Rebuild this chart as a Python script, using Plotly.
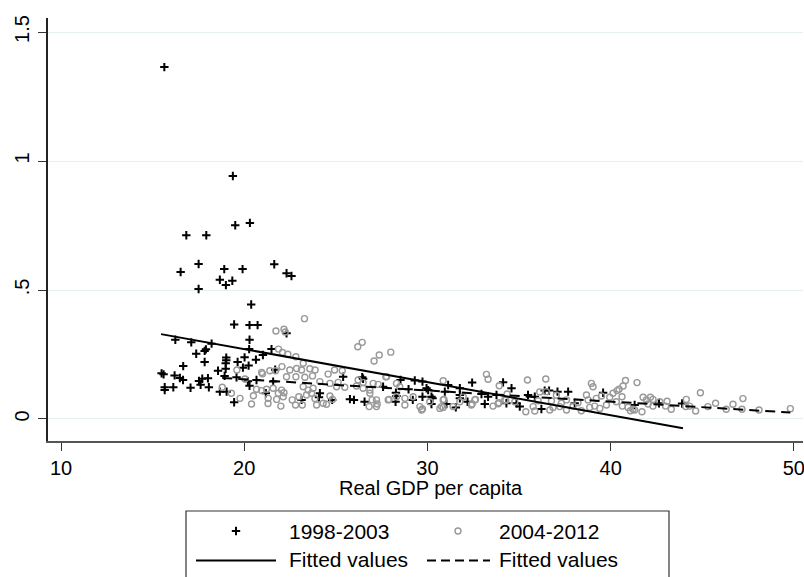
import plotly.graph_objects as go

# ---------------- data ----------------
p98_x = [15.64, 19.38, 19.51, 20.31, 16.84, 17.93, 17.51, 16.53, 18.91, 19.91, 21.64, 18.67, 19.00, 19.35,
         17.51, 22.31, 22.58, 20.38, 19.45, 20.29, 20.73, 22.31, 20.29, 16.24, 17.11, 18.22, 17.38, 17.84,
         17.91, 20.27, 21.49, 19.02, 19.02, 18.99, 19.64, 20.02, 20.64, 21.02, 17.84, 16.67, 19.93, 20.24,
         18.57, 18.99, 21.69, 15.49, 15.60, 16.20, 16.49, 16.66, 17.53, 17.71, 18.02, 17.62, 18.07, 17.07,
         15.66, 15.66, 16.13, 18.67, 19.04, 19.45, 18.93, 19.58, 20.20, 20.29, 20.67, 21.18, 21.58, 23.13,
         24.13, 24.08, 24.80, 25.40, 25.77, 25.99, 26.44, 26.49, 26.57, 27.58, 28.28, 28.31, 28.26, 28.53,
         28.97, 29.31, 29.73, 30.04, 30.22, 30.22, 29.73, 29.20, 29.95, 30.28, 30.95, 31.13, 31.04, 31.55,
         31.77, 31.77, 31.77, 32.44, 32.19, 32.95, 33.31, 33.13, 33.77, 34.13, 34.59, 34.31, 34.86, 35.04,
         35.49, 35.86, 36.22, 36.40, 36.64, 37.10, 37.68, 38.04, 39.59, 41.31, 42.64, 43.90]
p98_y = [1.364, 0.942, 0.751, 0.760, 0.712, 0.712, 0.601, 0.570, 0.581, 0.581, 0.600, 0.540, 0.519, 0.536,
         0.504, 0.565, 0.554, 0.444, 0.366, 0.364, 0.364, 0.332, 0.307, 0.307, 0.297, 0.292, 0.253, 0.264,
         0.270, 0.271, 0.271, 0.238, 0.228, 0.216, 0.221, 0.239, 0.230, 0.248, 0.221, 0.205, 0.199, 0.207,
         0.187, 0.195, 0.191, 0.177, 0.173, 0.169, 0.159, 0.151, 0.147, 0.156, 0.158, 0.133, 0.123, 0.121,
         0.123, 0.112, 0.123, 0.106, 0.106, 0.065, 0.167, 0.162, 0.146, 0.129, 0.151, 0.100, 0.145, 0.074,
         0.100, 0.084, 0.074, 0.164, 0.077, 0.074, 0.162, 0.156, 0.067, 0.125, 0.102, 0.089, 0.067, 0.151,
         0.115, 0.149, 0.145, 0.112, 0.086, 0.058, 0.086, 0.074, 0.119, 0.080, 0.106, 0.132, 0.058, 0.045,
         0.119, 0.093, 0.080, 0.141, 0.067, 0.097, 0.086, 0.058, 0.093, 0.142, 0.119, 0.061, 0.061, 0.048,
         0.093, 0.086, 0.039, 0.110, 0.110, 0.106, 0.106, 0.061, 0.102, 0.054, 0.061, 0.060]

p04_x = [23.29, 21.73, 22.17, 22.24, 26.44, 26.20, 27.37, 27.09, 28.00, 21.87, 22.09, 22.38, 22.82, 23.22,
         23.58, 23.87, 20.95, 21.00, 21.40, 21.71, 22.06, 22.49, 22.86, 23.13, 22.31, 22.82, 23.31, 23.73,
         24.58, 24.93, 25.35, 24.13, 24.68, 25.13, 25.04, 25.49, 26.22, 26.49, 27.04, 27.31, 27.73, 18.80,
         19.77, 20.40, 20.04, 20.67, 20.95, 21.22, 21.31, 21.77, 22.13, 21.86, 21.58, 22.04, 22.17, 22.00,
         22.80, 23.17, 22.62, 22.98, 23.40, 23.68, 23.86, 23.22, 23.49, 23.76, 23.95, 24.31, 24.49, 24.68,
         24.82, 26.13, 26.49, 26.86, 26.82, 27.22, 27.26, 26.98, 27.91, 28.31, 28.77, 28.77, 27.77, 28.31,
         28.49, 26.86, 27.22, 27.86, 29.22, 29.59, 29.68, 30.68, 30.86, 33.22, 33.31, 33.92, 35.46, 36.46,
         36.13, 29.73, 30.13, 30.86, 30.86, 31.40, 31.95, 32.44, 32.59, 33.58, 33.90, 34.28, 34.35, 34.77,
         35.37, 35.77, 36.04, 35.86, 36.68, 36.86, 36.77, 37.22, 37.59, 37.95, 38.22, 36.49, 37.04, 37.59,
         38.68, 38.95, 39.04, 38.77, 39.22, 39.50, 39.77, 40.13, 40.31, 40.81, 40.68, 41.44, 40.35, 40.46,
         40.62, 39.95, 40.64, 40.95, 41.22, 41.08, 41.31, 41.71, 41.77, 41.95, 42.17, 42.31, 42.04, 42.31,
         42.68, 43.08, 43.00, 43.31, 44.13, 44.10, 44.31, 44.64, 44.90, 45.31, 45.73, 46.31, 46.68, 47.22,
         47.17, 48.10, 49.81, 37.31, 38.40, 38.86, 39.13, 39.41, 30.90, 30.77, 31.77, 32.40, 32.62, 33.86,
         34.22, 19.30, 19.60, 20.50, 21.30]
p04_y = [0.389, 0.341, 0.348, 0.337, 0.297, 0.280, 0.248, 0.225, 0.259, 0.271, 0.258, 0.251, 0.241, 0.216,
         0.195, 0.190, 0.180, 0.175, 0.187, 0.187, 0.203, 0.190, 0.196, 0.190, 0.164, 0.164, 0.162, 0.167,
         0.174, 0.190, 0.187, 0.145, 0.138, 0.142, 0.125, 0.123, 0.151, 0.141, 0.138, 0.134, 0.164, 0.123,
         0.080, 0.058, 0.155, 0.115, 0.110, 0.115, 0.080, 0.076, 0.086, 0.100, 0.119, 0.112, 0.102, 0.050,
         0.054, 0.054, 0.074, 0.086, 0.093, 0.100, 0.079, 0.125, 0.112, 0.119, 0.054, 0.061, 0.057, 0.089,
         0.076, 0.128, 0.119, 0.112, 0.048, 0.048, 0.058, 0.074, 0.076, 0.086, 0.080, 0.054, 0.164, 0.138,
         0.125, 0.100, 0.074, 0.074, 0.086, 0.048, 0.035, 0.041, 0.148, 0.173, 0.154, 0.129, 0.151, 0.155,
         0.105, 0.039, 0.067, 0.074, 0.045, 0.048, 0.086, 0.058, 0.074, 0.050, 0.063, 0.072, 0.097, 0.067,
         0.028, 0.048, 0.071, 0.031, 0.035, 0.045, 0.070, 0.048, 0.035, 0.050, 0.063, 0.106, 0.092, 0.074,
         0.093, 0.138, 0.125, 0.074, 0.080, 0.089, 0.054, 0.100, 0.067, 0.149, 0.128, 0.141, 0.110, 0.115,
         0.086, 0.084, 0.050, 0.045, 0.038, 0.032, 0.035, 0.028, 0.084, 0.074, 0.084, 0.076, 0.058, 0.050,
         0.067, 0.069, 0.050, 0.038, 0.076, 0.048, 0.050, 0.031, 0.102, 0.048, 0.061, 0.038, 0.057, 0.079,
         0.038, 0.035, 0.040, 0.061, 0.032, 0.045, 0.050, 0.041, 0.076, 0.048, 0.067, 0.054, 0.076, 0.059,
         0.074, 0.100, 0.190, 0.090, 0.060]

# fitted values (endpoints of the linear fits)
fit98_x = [15.46, 43.95]
fit98_y = [0.329, -0.036]
fit04_x = [18.80, 49.81]
fit04_y = [0.159, 0.025]

x_ticks = [10, 20, 30, 40, 50]
y_ticks = [0, 0.5, 1, 1.5]
y_tick_text = ["0", ".5", "1", "1.5"]

series_names = ["1998-2003", "2004-2012", "Fitted values", "Fitted values"]
x_title = "Real GDP per capita"

# ---------------- figure ----------------
W, H = 804, 577
FONT = "Liberation Sans, Arial, sans-serif"
PLUS_C = "#000000"
CIRC_C = "#999999"
DASH = "10px,6px"
PLUS_M = dict(symbol="cross-thin", size=6, line=dict(color=PLUS_C, width=2))
CIRC_M = dict(symbol="circle-open", size=6, color=CIRC_C, line=dict(color=CIRC_C, width=1.4))

fig = go.Figure()

fig.add_trace(go.Scatter(x=p98_x, y=p98_y, mode="markers", name=series_names[0], marker=PLUS_M))
fig.add_trace(go.Scatter(x=p04_x, y=p04_y, mode="markers", name=series_names[1], marker=CIRC_M))
fig.add_trace(go.Scatter(x=fit98_x, y=fit98_y, mode="lines", name=series_names[2],
                         line=dict(color="black", width=2)))
fig.add_trace(go.Scatter(x=fit04_x, y=fit04_y, mode="lines", name=series_names[3],
                         line=dict(color="black", width=2, dash=DASH)))

# ----- legend drawn in pixel space on an overlay axis -----
fig.add_trace(go.Scatter(x=[236], y=[531], mode="markers", xaxis="x2", yaxis="y2", showlegend=False,
                         hoverinfo="skip", marker=PLUS_M))
fig.add_trace(go.Scatter(x=[458], y=[531], mode="markers", xaxis="x2", yaxis="y2",
                         showlegend=False, hoverinfo="skip", marker=CIRC_M))
fig.add_trace(go.Scatter(x=[196, 276], y=[560.5, 560.5], mode="lines", xaxis="x2", yaxis="y2",
                         showlegend=False, hoverinfo="skip", line=dict(color="black", width=2)))
fig.add_trace(go.Scatter(x=[427, 490], y=[560.5, 560.5], mode="lines", xaxis="x2", yaxis="y2",
                         showlegend=False, hoverinfo="skip",
                         line=dict(color="black", width=2, dash="9px,5px")))

annots = []
for (tx, ty, t) in [(287, 531, series_names[0]), (497, 531, series_names[1]),
                    (287, 559, series_names[2]), (497, 559, series_names[3])]:
    annots.append(dict(x=tx, y=ty, xref="x2", yref="y2", text=t, showarrow=False,
                       xanchor="left", yanchor="middle", font=dict(family=FONT, size=21, color="black")))
annots.append(dict(x=431, y=488, xref="x2", yref="y2", text=x_title, showarrow=False,
                   xanchor="center", yanchor="middle", font=dict(family=FONT, size=20, color="black")))

shapes = [dict(type="rect", xref="x2", yref="y2", x0=186, x1=669, y0=511, y1=620,
               line=dict(color="#333333", width=1.2), fillcolor="rgba(0,0,0,0)", layer="above")]

x_lo, x_hi = 9.29, 50.5
y_lo, y_hi = -0.0853, 1.5543

fig.update_layout(
    template="none",
    width=W, height=H,
    margin=dict(l=0, r=0, t=0, b=0),
    paper_bgcolor="white", plot_bgcolor="rgba(0,0,0,0)",
    showlegend=False,
    font=dict(family=FONT, color="black"),
    xaxis=dict(domain=[48 / W, 803 / W], range=[x_lo, x_hi], tickvals=x_ticks,
               ticktext=[str(v) for v in x_ticks], ticks="outside", ticklen=8, tickwidth=1.2,
               tickcolor="#333333", showline=True, linecolor="#555555", linewidth=2,
               showgrid=False, zeroline=False, automargin=False, ticklabeloverflow="allow",
               tickfont=dict(family=FONT, size=20, color="black"), anchor="y"),
    yaxis=dict(domain=[(H - 441) / H, (H - 18) / H], range=[y_lo, y_hi], tickvals=y_ticks,
               ticktext=y_tick_text, ticks="outside", ticklen=8, tickwidth=1.2, tickcolor="#333333",
               tickangle=-90, showline=True, linecolor="#222222", linewidth=1.5,
               showgrid=True, gridcolor="#e6eef0", gridwidth=1, zeroline=False, automargin=False,
               ticklabelstandoff=1, ticklabeloverflow="allow",
               tickfont=dict(family=FONT, size=20, color="black"), anchor="x"),
    xaxis2=dict(domain=[0, 1], range=[0, W], visible=False, fixedrange=True, anchor="y2"),
    yaxis2=dict(domain=[0, 1], range=[H, 0], visible=False, fixedrange=True, anchor="x2"),
    annotations=annots,
    shapes=shapes,
)

fig.write_html("out.html")
